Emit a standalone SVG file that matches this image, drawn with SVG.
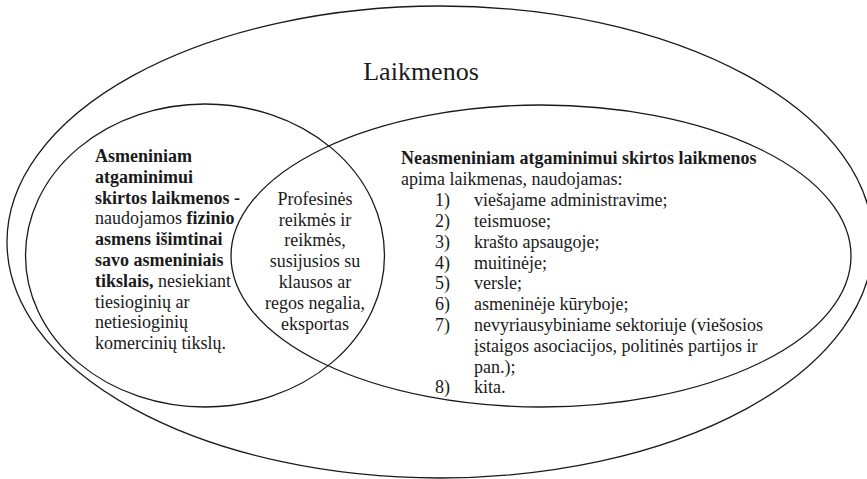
<svg xmlns="http://www.w3.org/2000/svg" width="867" height="479" viewBox="0 0 867 479">
<style>
.sh{fill:none;stroke:#1a1a1a;stroke-width:1.3}
text{font-family:"Liberation Serif","Times New Roman",serif;font-size:18px;fill:#1a1a1a}
.b{font-weight:bold}
.t{font-size:26px}
.m{text-anchor:middle}
</style>
<rect width="867" height="479" fill="#fff"/>
<g id="connectors"/>
<g id="laikmenos">
<ellipse class="sh" cx="440" cy="242" rx="433" ry="236"/>
<text class="t m" x="421" y="80">Laikmenos</text>
</g>
<g id="asmeniniam">
<ellipse class="sh" cx="205" cy="255.5" rx="179.5" ry="151.5"/>
<text x="95" y="162"><tspan class="b">Asmeniniam</tspan></text>
<text x="95" y="183"><tspan class="b">atgaminimui</tspan></text>
<text x="95" y="204"><tspan class="b">skirtos laikmenos -</tspan></text>
<text x="95" y="224">naudojamos <tspan class="b">fizinio</tspan></text>
<text x="95" y="245"><tspan class="b">asmens išimtinai</tspan></text>
<text x="95" y="266"><tspan class="b">savo asmeniniais</tspan></text>
<text x="95" y="287"><tspan class="b">tikslais,</tspan> nesiekiant</text>
<text x="95" y="308">tiesioginių ar</text>
<text x="95" y="328">netiesioginių</text>
<text x="95" y="349">komercinių tikslų.</text>
</g>
<g id="neasmeniniam">
<ellipse class="sh" cx="541" cy="256" rx="310" ry="151"/>
<text class="b" x="401" y="164">Neasmeniniam atgaminimui skirtos laikmenos</text>
<text x="401" y="185">apima laikmenas, naudojamas:</text>
<g>
<text x="435" y="206">1)</text><text x="474" y="206">viešajame administravime;</text>
<text x="435" y="227">2)</text><text x="474" y="227">teismuose;</text>
<text x="435" y="248">3)</text><text x="474" y="248">krašto apsaugoje;</text>
<text x="435" y="269">4)</text><text x="474" y="269">muitinėje;</text>
<text x="435" y="289">5)</text><text x="474" y="289">versle;</text>
<text x="435" y="310">6)</text><text x="474" y="310">asmeninėje kūryboje;</text>
<text x="435" y="331">7)</text><text x="474" y="331">nevyriausybiniame sektoriuje (viešosios</text>
<text x="474" y="352">įstaigos asociacijos, politinės partijos ir</text>
<text x="474" y="373">pan.);</text>
<text x="435" y="393">8)</text><text x="474" y="393">kita.</text>
</g>
</g>
<g id="profesines">
<text class="m" x="315" y="205">Profesinės</text>
<text class="m" x="315" y="226">reikmės ir</text>
<text class="m" x="315" y="246">reikmės,</text>
<text class="m" x="315" y="267">susijusios su</text>
<text class="m" x="315" y="288">klausos ar</text>
<text class="m" x="315" y="309">regos negalia,</text>
<text class="m" x="315" y="330">eksportas</text>
</g>
</svg>
